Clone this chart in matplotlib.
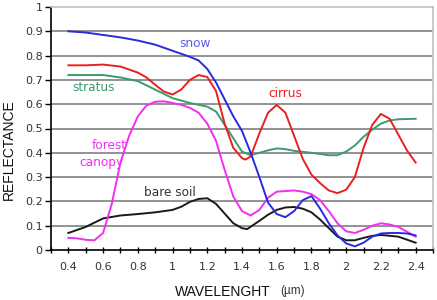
import matplotlib
matplotlib.use("Agg")
import matplotlib.pyplot as plt
from matplotlib.ticker import MultipleLocator

snow_x = [0.4, 0.5, 0.6, 0.7, 0.8, 0.9, 1.0, 1.1, 1.15, 1.2, 1.25, 1.3, 1.35, 1.4, 1.45, 1.5, 1.55, 1.6,
          1.65, 1.7, 1.75, 1.8, 1.85, 1.9, 1.95, 2.0, 2.05, 2.1, 2.15, 2.2, 2.25, 2.3, 2.35, 2.4]
snow_y = [0.90, 0.895, 0.885, 0.875, 0.862, 0.845, 0.82, 0.795, 0.78, 0.745, 0.69, 0.62, 0.55, 0.49, 0.40,
          0.30, 0.195, 0.148, 0.135, 0.16, 0.205, 0.222, 0.17, 0.11, 0.06, 0.027, 0.015, 0.03, 0.055,
          0.068, 0.07, 0.07, 0.068, 0.06]

cirrus_x = [0.4, 0.5, 0.6, 0.7, 0.8, 0.85, 0.9, 0.95, 1.0, 1.05, 1.1, 1.15, 1.2, 1.25, 1.3, 1.35, 1.4,
            1.42, 1.45, 1.5, 1.55, 1.6, 1.65, 1.7, 1.75, 1.8, 1.85, 1.9, 1.95, 2.0, 2.05, 2.1, 2.15,
            2.2, 2.25, 2.3, 2.35, 2.4]
cirrus_y = [0.76, 0.76, 0.763, 0.755, 0.73, 0.71, 0.68, 0.652, 0.64, 0.66, 0.70, 0.72, 0.712, 0.655,
            0.52, 0.42, 0.378, 0.372, 0.385, 0.48, 0.565, 0.597, 0.565, 0.47, 0.375, 0.31, 0.275,
            0.245, 0.234, 0.248, 0.30, 0.42, 0.515, 0.56, 0.54, 0.475, 0.41, 0.36]

stratus_x = [0.4, 0.5, 0.6, 0.7, 0.8, 0.9, 1.0, 1.1, 1.2, 1.25, 1.3, 1.35, 1.4, 1.45, 1.5, 1.55, 1.6,
             1.65, 1.7, 1.8, 1.9, 1.95, 2.0, 2.05, 2.1, 2.15, 2.2, 2.25, 2.3, 2.4]
stratus_y = [0.72, 0.72, 0.72, 0.71, 0.695, 0.66, 0.625, 0.605, 0.59, 0.57, 0.515, 0.46, 0.405, 0.39,
             0.40, 0.41, 0.418, 0.415, 0.408, 0.40, 0.39, 0.39, 0.405, 0.43, 0.466, 0.495, 0.52,
             0.533, 0.538, 0.54]

forest_x = [0.4, 0.45, 0.5, 0.55, 0.6, 0.65, 0.7, 0.75, 0.8, 0.85, 0.9, 0.95, 1.0, 1.05, 1.1, 1.15,
            1.2, 1.25, 1.3, 1.35, 1.4, 1.45, 1.5, 1.55, 1.6, 1.7, 1.75, 1.8, 1.85, 1.9, 1.95, 2.0,
            2.05, 2.1, 2.15, 2.2, 2.25, 2.3, 2.35, 2.4]
forest_y = [0.05, 0.048, 0.042, 0.04, 0.07, 0.19, 0.36, 0.47, 0.55, 0.595, 0.61, 0.612, 0.605, 0.597,
            0.585, 0.565, 0.52, 0.45, 0.33, 0.22, 0.16, 0.142, 0.165, 0.215, 0.24, 0.245, 0.24, 0.23,
            0.205, 0.16, 0.11, 0.077, 0.07, 0.083, 0.1, 0.11, 0.105, 0.095, 0.075, 0.055]

soil_x = [0.4, 0.5, 0.6, 0.7, 0.8, 0.9, 1.0, 1.05, 1.1, 1.15, 1.2, 1.25, 1.3, 1.35, 1.4, 1.43, 1.5,
          1.55, 1.6, 1.65, 1.7, 1.75, 1.8, 1.85, 1.9, 1.95, 2.0, 2.05, 2.1, 2.15, 2.2, 2.3, 2.4]
soil_y = [0.07, 0.095, 0.13, 0.142, 0.148, 0.155, 0.165, 0.178, 0.198, 0.21, 0.213, 0.19, 0.15, 0.11,
          0.09, 0.086, 0.12, 0.145, 0.165, 0.175, 0.177, 0.17, 0.155, 0.125, 0.09, 0.055, 0.04, 0.04,
          0.05, 0.058, 0.062, 0.055, 0.03]

x_ticks = [0.4, 0.6, 0.8, 1.0, 1.2, 1.4, 1.6, 1.8, 2.0, 2.2, 2.4]
x_tick_labels = ["0.4", "0.6", "0.8", "1", "1.2", "1.4", "1.6", "1.8", "2", "2.2", "2.4"]
y_ticks = [0, 0.1, 0.2, 0.3, 0.4, 0.5, 0.6, 0.7, 0.8, 0.9, 1.0]
y_tick_labels = ["0", "0.1", "0.2", "0.3", "0.4", "0.5", "0.6", "0.7", "0.8", "0.9", "1"]

fig = plt.figure(figsize=(4.37, 3.0), dpi=100)
ax = fig.add_axes([51/437, 50/300, 382/437, 243/300])

for yv in y_ticks[1:-1]:
    ax.axhline(yv, color="#8a8a8a", lw=1.3, zorder=1)

lw = 1.4
ax.plot(stratus_x, stratus_y, color="#3d9a6c", lw=lw, zorder=3, solid_joinstyle="round")
ax.plot(soil_x, soil_y, color="#1a1a1a", lw=lw, zorder=3, solid_joinstyle="round")
ax.plot(forest_x, forest_y, color="#f030f0", lw=lw, zorder=3, solid_joinstyle="round")
ax.plot(cirrus_x, cirrus_y, color="#e82020", lw=lw, zorder=3, solid_joinstyle="round")
ax.plot(snow_x, snow_y, color="#2a2ae0", lw=lw, zorder=3, solid_joinstyle="round")

ax.set_xlim(0.3, 2.5)
ax.set_ylim(0, 1.0)
ax.set_xticks(x_ticks)
ax.set_xticklabels(x_tick_labels)
ax.xaxis.set_minor_locator(MultipleLocator(0.1))
ax.set_yticks(y_ticks)
ax.set_yticklabels(y_tick_labels)

ax.tick_params(axis="x", which="both", direction="inout", length=5, width=1, colors="black",
               labelcolor="#333333", labelsize=8, pad=6)
ax.tick_params(axis="y", which="both", direction="out", length=4, width=1, colors="black",
               labelcolor="#333333", labelsize=8, pad=2)

for s in ["top", "right"]:
    ax.spines[s].set_color("#c0c0c0")
    ax.spines[s].set_linewidth(1.2)
for s in ["left", "bottom"]:
    ax.spines[s].set_color("black")
    ax.spines[s].set_linewidth(1.2)

tf = dict(fontsize=8.7, family="DejaVu Sans")
ax.text(1.13, 0.848, "snow", color="#5a5af0", ha="center", va="center", **tf)
ax.text(0.545, 0.67, "stratus", color="#3d9a6c", ha="center", va="center", **tf)
ax.text(1.65, 0.642, "cirrus", color="#e82020", ha="center", va="center", **tf)
ax.text(0.635, 0.432, "forest", color="#f030f0", ha="center", va="center", **tf)
ax.text(0.59, 0.362, "canopy", color="#f030f0", ha="center", va="center", **tf)
ax.text(0.985, 0.235, "bare soil", color="#333333", ha="center", va="center", **tf)

fig.text(9/437, 1 - 150/300, "REFLECTANCE", rotation=90, ha="center", va="center",
         fontsize=10, family="Liberation Sans", color="#111111")
fig.text(223/437, 1 - 292/300, "WAVELENGHT", ha="center", va="center",
         fontsize=10, family="Liberation Sans", color="#111111")
fig.text(293/437, 1 - 291/300, "(\u00b5m)", ha="center", va="center",
         fontsize=8.5, family="Liberation Sans", color="#333333")

fig.savefig("out.png", dpi=100)
